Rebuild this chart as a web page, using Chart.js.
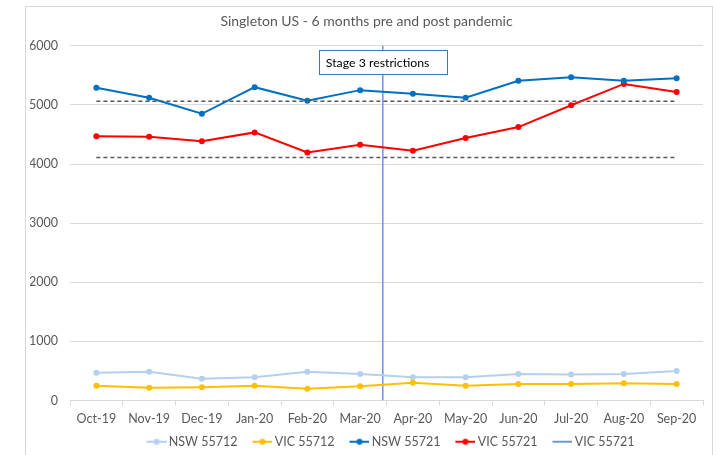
<!DOCTYPE html>
<html lang="en">
<head>
    <meta charset="UTF-8" />
    <title>Singleton US - 6 months pre and post pandemic</title>
    <style>
        body {
            margin: 0;
            background: #fff;
        }
        .chart-box {
            width: 718px;
            height: 455px;
        }
    </style>
</head>
<body>
    <div class="chart-box">
        <canvas id="chart" width="718" height="455"></canvas>
    </div>

    <script src="https://cdn.jsdelivr.net/npm/chart.js"></script>
    <script>
        const months = ['Oct-19', 'Nov-19', 'Dec-19', 'Jan-20', 'Feb-20', 'Mar-20',
                        'Apr-20', 'May-20', 'Jun-20', 'Jul-20', 'Aug-20', 'Sep-20'];
        const nsw55712 = [470, 485, 370, 395, 485, 450, 395, 395, 450, 440, 450, 500];
        const vic55712 = [250, 215, 225, 250, 200, 240, 300, 250, 280, 280, 290, 280];
        const nsw55721 = [5290, 5120, 4850, 5300, 5070, 5250, 5190, 5120, 5410, 5470, 5410, 5450];
        const vic55721 = [4470, 4460, 4385, 4535, 4195, 4325, 4225, 4440, 4625, 4995, 5355, 5220];
        const upperBand = [5060, 5060, 5060, 5060, 5060, 5060, 5060, 5060, 5060, 5060, 5060, 5060];
        const lowerBand = [4110, 4110, 4110, 4110, 4110, 4110, 4110, 4110, 4110, 4110, 4110, 4110];
        const stageLine = [{x: 5.43, y: 0}, {x: 5.43, y: 6000}];
        const yTicks = [0, 1000, 2000, 3000, 4000, 5000, 6000];

        const FONT = 'Lato, "Liberation Sans", sans-serif';
        const GREY = '#595959';

        // line + dot swatch like the Excel legend; blank on the left so the
        // text sits close to the line
        function swatch(color, dot) {
            const c = document.createElement('canvas');
            c.width = 32;
            c.height = 8;
            const g = c.getContext('2d');
            g.strokeStyle = color;
            g.lineWidth = 2;
            g.beginPath();
            g.moveTo(12, 4);
            g.lineTo(32, 4);
            g.stroke();
            if (dot) {
                g.fillStyle = color;
                g.beginPath();
                g.arc(22, 4, 3, 0, Math.PI * 2);
                g.fill();
            }
            return c;
        }

        const framePlugin = {
            id: 'frame',
            beforeDraw(chart) {
                const ctx = chart.ctx;
                ctx.save();
                ctx.strokeStyle = '#d9d9d9';
                ctx.lineWidth = 1;
                ctx.strokeRect(25.5, 6.5, 687, 460);
                ctx.restore();
            },
            afterLayout(chart) {
                // excel centres the legend under the plot area
                const lg = chart.legend;
                const shift = (chart.chartArea.left + chart.chartArea.right) / 2 - (lg.left + lg.right) / 2;
                lg.left += shift;
                lg.right += shift;
            }
        };

        const stagePlugin = {
            id: 'stageBox',
            afterDatasetsDraw(chart) {
                const ctx = chart.ctx;
                const xs = chart.scales.xv;
                const cx = xs.getPixelForValue(stageLine[0].x);
                const top = chart.scales.y.getPixelForValue(6000) + 4;
                const w = 128, h = 24;
                ctx.save();
                ctx.fillStyle = '#fff';
                ctx.fillRect(cx - w / 2, top, w, h);
                ctx.strokeStyle = '#4472c4';
                ctx.lineWidth = 1;
                ctx.strokeRect(Math.round(cx - w / 2) + 0.5, Math.round(top) + 0.5, w, h);
                ctx.fillStyle = '#000';
                ctx.font = '12.3px ' + FONT;
                ctx.textBaseline = 'middle';
                ctx.fillText('Stage 3 restrictions', cx - w / 2 + 7, top + h / 2 + 1);
                ctx.restore();
            }
        };

        function lineSet(label, data, color) {
            return {
                label: label,
                data: data,
                borderColor: color,
                backgroundColor: color,
                borderWidth: 2,
                pointRadius: 3,
                pointBorderWidth: 0,
                pointHoverRadius: 3,
                pointStyle: 'circle',
                legendSwatch: swatch(color, true),
                tension: 0
            };
        }

        function bandSet(data) {
            return {
                label: 'band',
                data: data,
                borderColor: '#595959',
                borderWidth: 1.5,
                borderDash: [4, 3],
                pointRadius: 0,
                fill: false
            };
        }

        new Chart(document.getElementById('chart'), {
            type: 'line',
            data: {
                labels: months,
                datasets: [
                    bandSet(upperBand),
                    bandSet(lowerBand),
                    lineSet('NSW 55712', nsw55712, '#b4d0ee'),
                    lineSet('VIC 55712', vic55712, '#ffc000'),
                    lineSet('NSW 55721', nsw55721, '#0070c0'),
                    lineSet('VIC 55721', vic55721, '#ff0000'),
                    {
                        type: 'scatter',
                        label: 'VIC 55721',
                        data: stageLine,
                        xAxisID: 'xv',
                        showLine: true,
                        borderColor: '#6f94d6',
                        backgroundColor: '#6f94d6',
                        borderWidth: 1.5,
                        pointRadius: 0,
                        legendSwatch: swatch('#6f94d6', false)
                    }
                ]
            },
            options: {
                responsive: false,
                animation: false,
                layout: { padding: { left: 30, right: 15, top: 4, bottom: -3 } },
                plugins: {
                    title: {
                        display: true,
                        text: 'Singleton US - 6 months pre and post pandemic',
                        color: GREY,
                        font: { family: FONT, size: 14, weight: 'normal' },
                        padding: { top: 9, bottom: 16 }
                    },
                    legend: {
                        position: 'bottom',
                        labels: {
                            usePointStyle: true,
                            pointStyleWidth: 24,
                            color: GREY,
                            font: { family: FONT, size: 12.5 },
                            padding: 7,
                            filter: item => item.text !== 'band',
                            generateLabels(chart) {
                                const items = Chart.defaults.plugins.legend.labels.generateLabels(chart);
                                items.forEach(it => {
                                    const ds = chart.data.datasets[it.datasetIndex];
                                    if (ds.legendSwatch) it.pointStyle = ds.legendSwatch;
                                });
                                return items;
                            }
                        }
                    },
                    tooltip: { enabled: false }
                },
                scales: {
                    x: {
                        offset: true,
                        afterFit: s => { s.height = 28; },
                        grid: {
                            drawOnChartArea: false,
                            drawTicks: true,
                            tickLength: 5,
                            offset: true,
                            color: '#d9d9d9'
                        },
                        border: { color: '#d9d9d9' },
                        ticks: {
                            color: GREY,
                            font: { family: FONT, size: 12.5 },
                            maxRotation: 0,
                            padding: 6
                        }
                    },
                    xv: {
                        type: 'linear',
                        display: false,
                        min: -0.5,
                        max: 11.5
                    },
                    y: {
                        min: 0,
                        max: 6000,
                        afterFit: s => { s.width = 40; },
                        afterBuildTicks: s => { s.ticks = yTicks.map(v => ({ value: v })); },
                        grid: { color: '#d9d9d9', drawTicks: false },
                        border: { display: false },
                        ticks: {
                            color: GREY,
                            font: { family: FONT, size: 12.5 },
                            padding: 12,
                            callback: v => String(v)
                        }
                    }
                }
            },
            plugins: [framePlugin, stagePlugin]
        });
    </script>
</body>
</html>
